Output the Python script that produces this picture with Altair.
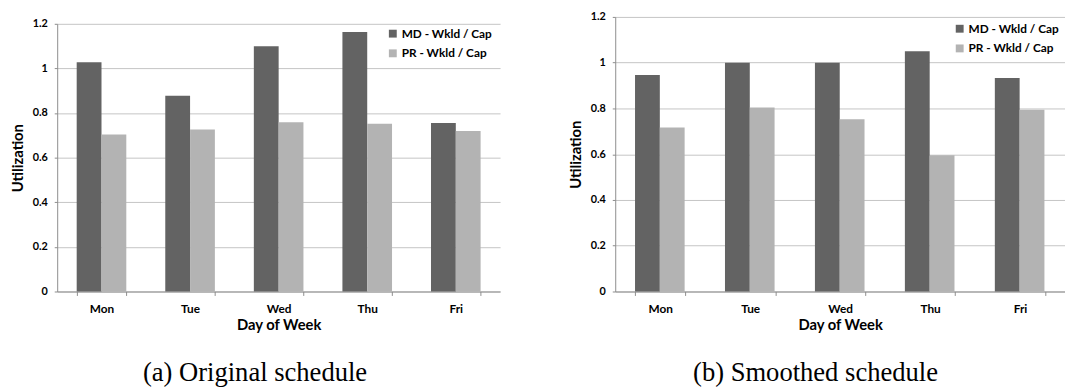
import altair as alt
import pandas as pd

days = ["Mon", "Tue", "Wed", "Thu", "Fri"]
series = ["MD - Wkld / Cap", "PR - Wkld / Cap"]
orig_md = [1.028, 0.878, 1.099, 1.163, 0.755]
orig_pr = [0.704, 0.726, 0.759, 0.752, 0.720]
smooth_md = [0.946, 1.0, 1.0, 1.05, 0.933]
smooth_pr = [0.717, 0.804, 0.753, 0.595, 0.794]
y_ticks = [0, 0.2, 0.4, 0.6, 0.8, 1, 1.2]
captions = ["(a) Original schedule", "(b) Smoothed schedule"]
colors = ["#636363", "#b3b3b3"]

FONT = "Lato"
AX = "#8c8c8c"
H = 279


def panel(md, pr, caption, w, top, lx, ly, dx):
    df = pd.DataFrame({
        "day": days + days,
        "series": [series[0]] * len(days) + [series[1]] * len(days),
        "value": md + pr,
    })
    bars = alt.Chart(df).mark_bar().encode(
        x=alt.X("day:N", sort=days,
                scale=alt.Scale(paddingInner=0.44, paddingOuter=0.22),
                axis=alt.Axis(title="Day of Week", labelAngle=0, tickBand="extent",
                              labelFont=FONT, labelFontSize=12, labelFontWeight="bold",
                              labelColor="black", labelPadding=8,
                              titleFont=FONT, titleFontSize=15, titleFontWeight="bold",
                              titleColor="black", titlePadding=4,
                              tickSize=4, tickColor=AX, domainColor=AX, grid=False)),
        xOffset=alt.XOffset("series:N", sort=series),
        y=alt.Y("value:Q", scale=alt.Scale(domain=[0, 1.2], nice=False, zero=True,
                                           range=[H, top]),
                axis=alt.Axis(title="Utilization", values=y_ticks,
                              labelExpr="format(datum.value, '.1~f')",
                              labelFont=FONT, labelFontSize=11, labelFontWeight="bold",
                              labelColor="black", labelPadding=7,
                              titleFont=FONT, titleFontSize=15, titleFontWeight="bold",
                              titleColor="black", titlePadding=7,
                              tickSize=3, tickColor=AX, domainColor=AX,
                              grid=True, gridColor="#c4c4c4")),
        color=alt.Color("series:N", sort=series,
                        scale=alt.Scale(domain=series, range=colors),
                        legend=alt.Legend(title=None, orient="none", legendX=lx, legendY=ly,
                                          symbolType="square", symbolSize=64,
                                          symbolStrokeWidth=0, labelFont=FONT,
                                          labelFontSize=12, labelFontWeight="bold",
                                          labelColor="black", labelOffset=3,
                                          rowPadding=8)),
    )
    return bars.properties(
        width=w, height=H,
        title=alt.TitleParams(caption, orient="bottom", anchor="middle", dx=dx, offset=28,
                              font="Liberation Serif", fontSize=27, fontWeight="normal",
                              color="black"),
    )


left = panel(orig_md, orig_pr, captions[0], 450, 7, 335, 11, -24)
right = panel(smooth_md, smooth_pr, captions[1], 457, 0, 344, 6, -25)

chart = alt.hconcat(left, right, spacing=69).resolve_scale(
    color="independent"
).resolve_legend(color="independent").properties(
    padding={"left": 2, "top": 0, "right": 0, "bottom": 0}
).configure_view(strokeWidth=0)

chart.save("out.html", embed_options={"renderer": "svg", "actions": False})
